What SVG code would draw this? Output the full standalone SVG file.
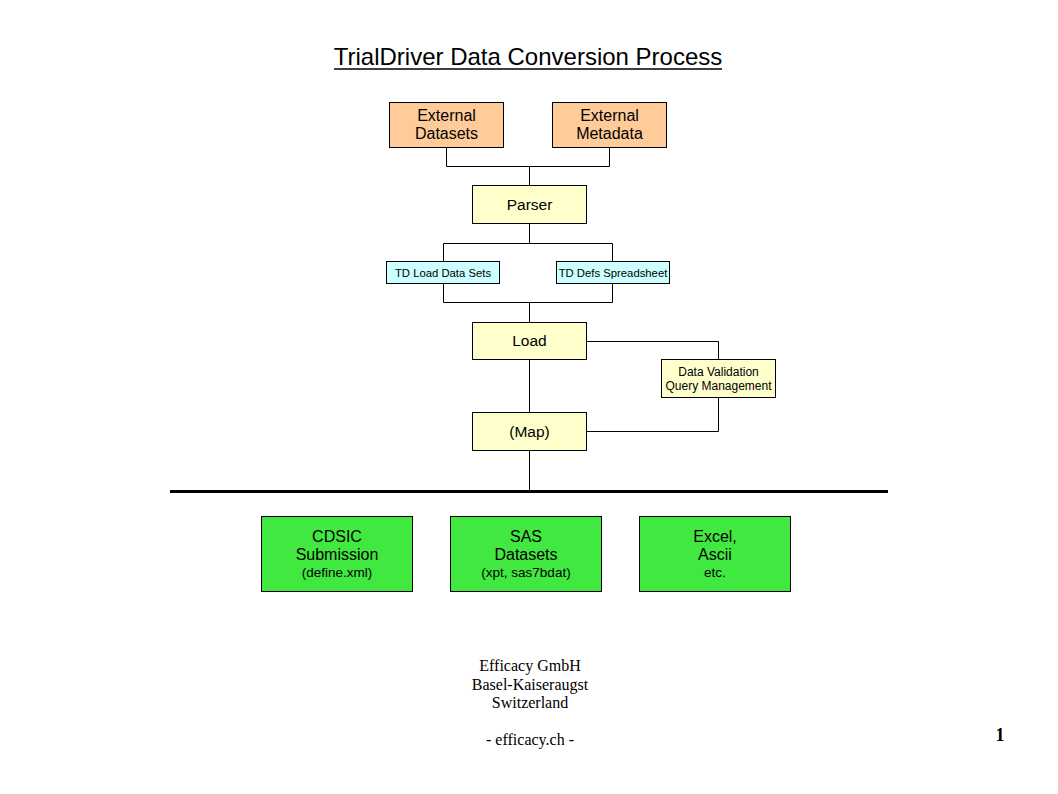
<svg xmlns="http://www.w3.org/2000/svg" width="1058" height="794" viewBox="0 0 1058 794">
<style>
.box{stroke:#000;stroke-width:1}
.ext{fill:#FFCC99}
.yel{fill:#FFFFCC}
.cyan{fill:#CCFFFF}
.grn{fill:#40E840}
.t{font-family:"Liberation Sans",Arial,sans-serif;text-anchor:middle;fill:#000}
.f15{font-size:15.5px}
.f16{font-size:16px}
.f11{font-size:12px}
.f10{font-size:11.3px}
.f12{font-size:13.5px}
.ser{font-family:"Liberation Serif","Times New Roman",serif;text-anchor:middle;font-size:16px;fill:#000}
.c{fill:none;stroke:#000;stroke-width:1}
</style>
<rect width="1058" height="794" fill="#fff"/>
<g id="title">
<text class="t" x="528" y="65" style="font-size:24px">TrialDriver Data Conversion Process</text>
<line x1="334" y1="69" x2="722" y2="69" stroke="#000" stroke-width="1.5"/>
</g>
<g id="connectors">
<polyline class="c" points="446.5,147 446.5,166.5 609.5,166.5 609.5,147"/>
<line class="c" x1="529.5" y1="166.5" x2="529.5" y2="185"/>
<polyline class="c" points="443.5,262 443.5,243.5 612.5,243.5 612.5,262"/>
<line class="c" x1="529.5" y1="223" x2="529.5" y2="243.5"/>
<polyline class="c" points="443.5,283 443.5,302.5 612.5,302.5 612.5,283"/>
<line class="c" x1="529.5" y1="302.5" x2="529.5" y2="322"/>
<polyline class="c" points="587,341.5 718.5,341.5 718.5,359"/>
<polyline class="c" points="718.5,397 718.5,431.5 587,431.5"/>
<line class="c" x1="529.5" y1="359" x2="529.5" y2="412"/>
<line class="c" x1="529.5" y1="450" x2="529.5" y2="490"/>
<line x1="170" y1="491.5" x2="888" y2="491.5" stroke="#000" stroke-width="3"/>
</g>
<g id="external-datasets">
<rect class="box ext" x="389.5" y="102.5" width="114" height="45"/>
<text class="t f16" x="446.5" y="120.5">External</text>
<text class="t f16" x="446.5" y="138.5">Datasets</text>
</g>
<g id="external-metadata">
<rect class="box ext" x="552.5" y="102.5" width="114" height="45"/>
<text class="t f16" x="609.5" y="120.5">External</text>
<text class="t f16" x="609.5" y="138.5">Metadata</text>
</g>
<g id="parser">
<rect class="box yel" x="472.5" y="185.5" width="114" height="38"/>
<text class="t f15" x="529.5" y="209.5">Parser</text>
</g>
<g id="td-load">
<rect class="box cyan" x="386.5" y="261.5" width="113" height="22"/>
<text class="t f10" x="443" y="276.5">TD Load Data Sets</text>
</g>
<g id="td-defs">
<rect class="box cyan" x="556.5" y="261.5" width="113" height="22"/>
<text class="t f10" x="613" y="276.5">TD Defs Spreadsheet</text>
</g>
<g id="load">
<rect class="box yel" x="472.5" y="322.5" width="114" height="37"/>
<text class="t f15" x="529.5" y="345.5">Load</text>
</g>
<g id="data-validation">
<rect class="box yel" x="661.5" y="359.5" width="114" height="38"/>
<text class="t f11" x="718.5" y="375.5">Data Validation</text>
<text class="t f11" x="718.5" y="389.5">Query Management</text>
</g>
<g id="map">
<rect class="box yel" x="472.5" y="412.5" width="114" height="38"/>
<text class="t f15" x="529.5" y="436.5">(Map)</text>
</g>
<g id="cdsic">
<rect class="box grn" x="261.5" y="516.5" width="151" height="75"/>
<text class="t f16" x="337" y="541.5">CDSIC</text>
<text class="t f16" x="337" y="559.5">Submission</text>
<text class="t f12" x="337" y="577">(define.xml)</text>
</g>
<g id="sas">
<rect class="box grn" x="450.5" y="516.5" width="151" height="75"/>
<text class="t f16" x="526" y="541.5">SAS</text>
<text class="t f16" x="526" y="559.5">Datasets</text>
<text class="t f12" x="526" y="577">(xpt, sas7bdat)</text>
</g>
<g id="excel">
<rect class="box grn" x="639.5" y="516.5" width="151" height="75"/>
<text class="t f16" x="715" y="541.5">Excel,</text>
<text class="t f16" x="715" y="559.5">Ascii</text>
<text class="t f12" x="715" y="577">etc.</text>
</g>
<g id="footer">
<text class="ser" x="530" y="671">Efficacy GmbH</text>
<text class="ser" x="530" y="690">Basel-Kaiseraugst</text>
<text class="ser" x="530" y="708">Switzerland</text>
<text class="ser" x="530" y="745">- efficacy.ch -</text>
<text class="ser" x="1000" y="741" style="font-size:18px;font-weight:bold">1</text>
</g>
</svg>
